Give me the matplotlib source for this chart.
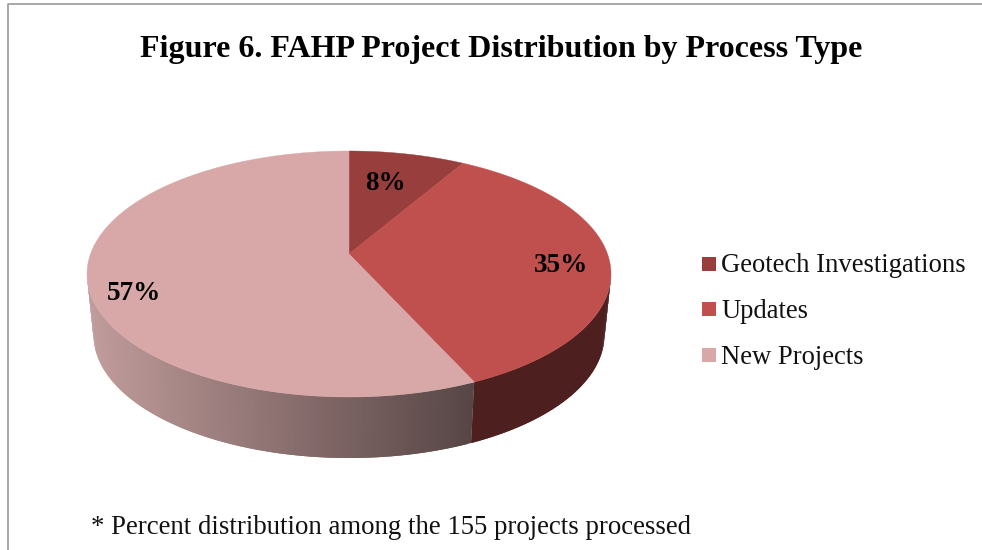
import numpy as np
import matplotlib
matplotlib.use('Agg')
import matplotlib.pyplot as plt
from matplotlib.patches import Rectangle

plt.rcParams['font.family'] = ['Liberation Serif', 'DejaVu Serif']

# data
categories = ['Geotech Investigations', 'Updates', 'New Projects']
projects = [13, 54, 88]  # of the 155 processed, estimated from the percents
title = 'Figure 6. FAHP Project Distribution by Process Type'
note = '* Percent distribution among the 155 projects processed'

top_colors = ['#983F3E', '#C0504D', '#D7A8A7']
label_pos = [(385, 184), (561, 266), (134, 294)]
legend_y = [264, 309, 355]

# perspective ellipse of the pie, in pixels
CX, CY = 349, 254
A, B, K = 258.5, 78.45, -0.1626
DEPTH = 61
SHRINK = 0.975


def top_edge(theta):
    # theta clockwise from 12 o'clock, radians
    u, v = np.sin(theta), -np.cos(theta)
    d = 1 + K * v
    return CX + A * u / d, (CY + B * v) / d


def bottom_edge(theta):
    x, y = top_edge(theta)
    return CX + (x - CX) * SHRINK, y + DEPTH


def side_color(i, x):
    if i == 1:
        return (0.30, 0.12, 0.12)
    t = np.clip((x - 90) / (473 - 90), 0, 1)
    c0 = np.array([192, 156, 155]) / 255
    c1 = np.array([88, 70, 70]) / 255
    return tuple(c0 + (c1 - c0) * t)


fig = plt.figure(figsize=(9.82, 5.50), dpi=100)
ax = fig.add_axes([0, 0, 1, 1])
ax.set_xlim(0, 982)
ax.set_ylim(550, 0)
ax.axis('off')

# chart frame, only top and left are in the crop
ax.plot([8, 8, 982], [550, 4, 4], color='#9A9A9A', lw=1.2, zorder=1)

shares = np.array(projects) / sum(projects)
edges = np.r_[0, np.cumsum(shares)] * 2 * np.pi

# side wall, visible from the right extreme round to the left extreme
side_from = np.arccos(K)
side_to = 2 * np.pi - side_from
for i in range(len(projects)):
    a0 = max(edges[i], side_from)
    a1 = min(edges[i + 1], side_to)
    if a1 <= a0:
        continue
    steps = np.linspace(a0, a1, int((a1 - a0) * 60) + 3)
    for j in range(len(steps) - 1):
        # each strip overlaps the next one so no seams show
        s = np.linspace(steps[j], steps[min(j + 2, len(steps) - 1)], 6)
        xt, yt = top_edge(s)
        xb, yb = bottom_edge(s)
        col = side_color(i, xt[0])
        ax.fill(np.r_[xt, xb[::-1]], np.r_[yt, yb[::-1]], color=col, lw=0, zorder=2)

# top face
for i, col in enumerate(top_colors):
    t = np.linspace(edges[i], edges[i + 1], 200)
    x, y = top_edge(t)
    ax.fill(np.r_[CX, x], np.r_[CY, y], color=col, lw=0.3, zorder=3)

for s, (x, y) in zip(shares, label_pos):
    ax.text(x, y, f'{s * 100:.0f}%', fontsize=19.5, fontweight='bold', ha='center', va='center', zorder=4)

# legend
for name, col, y in zip(categories, top_colors, legend_y):
    ax.add_patch(Rectangle((702, y - 7), 14, 14, color=col, lw=0))
    ax.text(721, y + 2, name, fontsize=19.2, ha='left', va='center', color='#111111')

ax.text(501, 49, title, fontsize=23, fontweight='bold', ha='center', va='center')
ax.text(91, 527, note, fontsize=19.25, ha='left', va='center', color='#111111')

fig.savefig('out.png', dpi=100)
